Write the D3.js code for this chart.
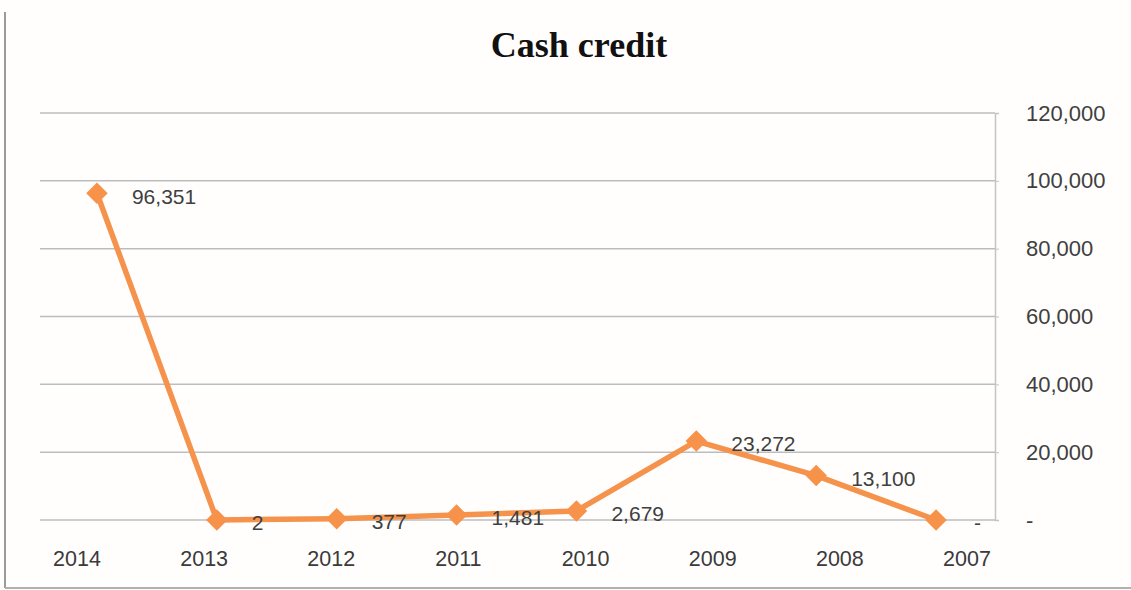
<!DOCTYPE html>
<html>
<head>
<meta charset="utf-8">
<script src="https://cdn.jsdelivr.net/npm/d3@7"></script>
<style>
  html, body { margin: 0; padding: 0; background: #fff; }
  svg { display: block; }
</style>
</head>
<body>
<div id="chart"></div>
<script>
const years = ['2014', '2013', '2012', '2011', '2010', '2009', '2008', '2007'];
const cashCredit = [96351, 2, 377, 1481, 2679, 23272, 13100, 0];
const yTicks = [0, 20000, 40000, 60000, 80000, 100000, 120000];

const width = 1131;
const height = 590;
const margin = { top: 113, right: 135, bottom: 70, left: 37 };

const svg = d3.select('#chart').append('svg')
  .attr('width', width)
  .attr('height', height);

// frame
svg.append('rect')
  .attr('x', 0).attr('y', 0).attr('width', width).attr('height', height)
  .attr('fill', '#fffefd');
svg.append('line')
  .attr('x1', 5).attr('x2', 5).attr('y1', 12).attr('y2', 588)
  .attr('stroke', '#9a9a9a').attr('stroke-width', 2);
svg.append('line')
  .attr('x1', 5).attr('x2', width).attr('y1', 588).attr('y2', 588)
  .attr('stroke', '#b0b0b0').attr('stroke-width', 2);

const x = d3.scalePoint()
  .domain(years)
  .range([margin.left, width - margin.right])
  .padding(0.5);

// category labels sit on a slightly wider spread than the points in the source
const xLabel = d3.scalePoint()
  .domain(years)
  .range([77, 967]);

const y = d3.scaleLinear()
  .domain([0, 120000])
  .range([height - margin.bottom, margin.top]);

const fmt = v => v === 0 ? '-' : d3.format(',')(v);

// gridlines
svg.append('g')
  .selectAll('line')
  .data(yTicks)
  .join('line')
  .attr('x1', margin.left + 3)
  .attr('x2', width - margin.right - 1)
  .attr('y1', d => y(d))
  .attr('y2', d => y(d))
  .attr('stroke', '#bdbdbd')
  .attr('stroke-width', 1.5);

// right axis
const yAxis = svg.append('g')
  .attr('transform', `translate(${width - margin.right - 1},0)`)
  .call(d3.axisRight(y).tickValues(yTicks).tickFormat(fmt).tickSize(4).tickPadding(27));
yAxis.select('.domain').attr('stroke', '#c4c4c4').attr('stroke-width', 1.5);
yAxis.selectAll('.tick line').attr('stroke', '#c4c4c4');
yAxis.selectAll('.tick text')
  .attr('font-family', 'Liberation Sans, Arial, sans-serif')
  .attr('font-size', 22)
  .attr('fill', '#404040');

// x labels
svg.append('g')
  .selectAll('text')
  .data(years)
  .join('text')
  .attr('x', d => xLabel(d))
  .attr('y', 558)
  .attr('dy', '0.35em')
  .attr('text-anchor', 'middle')
  .attr('font-family', 'Liberation Sans, Arial, sans-serif')
  .attr('font-size', 21.5)
  .attr('fill', '#3a3a3a')
  .text(d => d);

// title
svg.append('text')
  .attr('x', 579)
  .attr('y', 57)
  .attr('text-anchor', 'middle')
  .attr('font-family', 'Liberation Serif, Times New Roman, serif')
  .attr('font-weight', 'bold')
  .attr('font-size', 36)
  .attr('fill', '#111')
  .text('Cash credit');

const points = years.map((yr, i) => ({ year: yr, value: cashCredit[i] }));

// line
svg.append('path')
  .datum(points)
  .attr('fill', 'none')
  .attr('stroke', '#f5934c')
  .attr('stroke-width', 5.5)
  .attr('stroke-linejoin', 'round')
  .attr('d', d3.line().x(d => x(d.year)).y(d => y(d.value)));

// diamond markers
svg.append('g')
  .selectAll('path')
  .data(points)
  .join('path')
  .attr('transform', d => `translate(${x(d.year)},${y(d.value)}) rotate(45)`)
  .attr('d', d3.symbol().type(d3.symbolSquare).size(230))
  .attr('fill', '#f7924a');

// data labels
svg.append('g')
  .selectAll('text')
  .data(points)
  .join('text')
  .attr('x', d => x(d.year) + (d.value === 0 ? 38 : 35))
  .attr('y', d => y(d.value) + 3)
  .attr('dy', '0.35em')
  .attr('font-family', 'Liberation Sans, Arial, sans-serif')
  .attr('font-size', 21)
  .attr('fill', '#404040')
  .text(d => fmt(d.value));
</script>
</body>
</html>
